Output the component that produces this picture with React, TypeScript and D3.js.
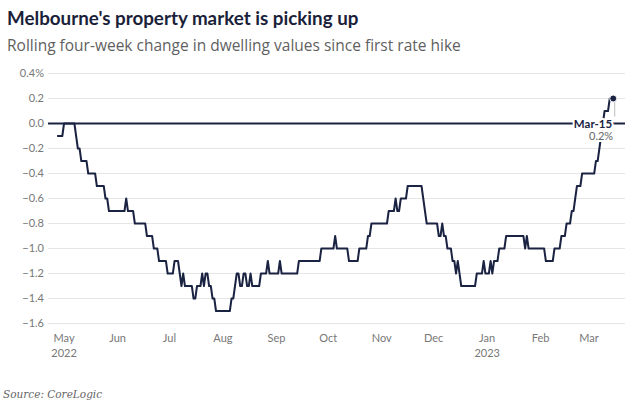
import React from "react";
import * as d3 from "d3";

// ---- data (change points of the rolling four-week change, %) ----
const stepStarts = [
  "2022-04-27", "2022-05-01", "2022-05-08", "2022-05-09", "2022-05-11", "2022-05-15", "2022-05-20",
  "2022-05-25", "2022-05-27", "2022-06-06", "2022-06-07", "2022-06-11", "2022-06-18", "2022-06-22",
  "2022-06-25", "2022-06-30", "2022-07-04", "2022-07-07", "2022-07-08", "2022-07-09", "2022-07-10",
  "2022-07-15", "2022-07-17", "2022-07-20", "2022-07-21", "2022-07-22", "2022-07-24", "2022-07-26",
  "2022-07-28", "2022-08-06", "2022-08-08", "2022-08-09", "2022-08-11", "2022-08-13", "2022-08-15",
  "2022-08-17", "2022-08-18", "2022-08-23", "2022-08-27", "2022-08-28", "2022-09-03", "2022-09-04",
  "2022-09-14", "2022-09-27", "2022-10-05", "2022-10-06", "2022-10-13", "2022-10-19", "2022-10-24",
  "2022-10-26", "2022-11-05", "2022-11-09", "2022-11-10", "2022-11-12", "2022-11-16", "2022-11-25",
  "2022-11-26", "2022-11-27", "2022-12-04", "2022-12-06", "2022-12-07", "2022-12-09", "2022-12-12",
  "2022-12-14", "2022-12-15", "2022-12-16", "2022-12-17", "2022-12-26", "2022-12-30", "2022-12-31",
  "2023-01-03", "2023-01-04", "2023-01-05", "2023-01-08", "2023-01-12", "2023-01-23", "2023-01-24",
  "2023-01-25", "2023-02-04", "2023-02-09", "2023-02-13", "2023-02-16", "2023-02-19", "2023-02-21",
  "2023-02-22", "2023-02-25", "2023-03-05", "2023-03-07", "2023-03-08", "2023-03-09", "2023-03-10",
  "2023-03-13",
];
const stepValues = [
  -0.1, 0.0, -0.1, -0.2, -0.3, -0.4, -0.5,
  -0.6, -0.7, -0.6, -0.7, -0.8, -0.9, -1.0,
  -1.1, -1.2, -1.1, -1.2, -1.3, -1.2, -1.3,
  -1.4, -1.3, -1.2, -1.3, -1.2, -1.3, -1.4,
  -1.5, -1.4, -1.3, -1.2, -1.3, -1.2, -1.3,
  -1.2, -1.3, -1.2, -1.1, -1.2, -1.1, -1.2,
  -1.1, -1.0, -0.9, -1.0, -1.1, -1.0, -0.9,
  -0.8, -0.7, -0.6, -0.7, -0.6, -0.5, -0.6,
  -0.7, -0.8, -0.9, -0.8, -0.9, -1.0, -1.1,
  -1.2, -1.1, -1.2, -1.3, -1.2, -1.1, -1.2,
  -1.1, -1.2, -1.1, -1.0, -0.9, -1.0, -0.9,
  -1.0, -1.1, -1.0, -0.9, -0.8, -0.7, -0.6,
  -0.5, -0.4, -0.3, -0.2, -0.1, 0.0, 0.1,
  0.2,
];
const seriesEnd = "2023-03-15";
const endLabel = "Mar-15";
const endValueLabel = "0.2%";

const yTicks = [0.4, 0.2, 0.0, -0.2, -0.4, -0.6, -0.8, -1.0, -1.2, -1.4, -1.6];
const monthTicks = [
  "2022-05-01", "2022-06-01", "2022-07-01", "2022-08-01", "2022-09-01", "2022-10-01",
  "2022-11-01", "2022-12-01", "2023-01-01", "2023-02-01", "2023-03-01",
];
const monthLabels = ["May", "Jun", "Jul", "Aug", "Sep", "Oct", "Nov", "Dec", "Jan", "Feb", "Mar"];
const yearLabels = ["2022", "", "", "", "", "", "", "", "2023", "", ""];

const title = "Melbourne's property market is picking up";
const subtitle = "Rolling four-week change in dwelling values since first rate hike";
const source = "Source: CoreLogic";

const W = 632;
const H = 418;
const NAVY = "#1b2342";
const FONT = "Lato, 'Noto Sans', sans-serif";

export default function App() {
  const parse = d3.utcParse("%Y-%m-%d");
  const starts = stepStarts.map((s) => parse(s) as Date);
  const end = parse(seriesEnd) as Date;
  const days = d3.utcDay.range(starts[0], d3.utcDay.offset(end, 1));
  const data = days.map((d) => {
    const i = d3.bisectRight(starts, d) - 1;
    return { date: d, value: stepValues[i] };
  });

  const x = d3
    .scaleUtc()
    .domain([parse("2022-04-22") as Date, parse("2023-03-22") as Date])
    .range([48.5, 625.3]);
  const y = d3.scaleLinear().domain([-1.6, 0.4]).range([323.5, 73.5]);

  const line = d3
    .line<{ date: Date; value: number }>()
    .x((d) => x(d.date))
    .y((d) => y(d.value));

  const last = data[data.length - 1];
  const lx = x(last.date);
  const ly = y(last.value);

  const fmtY = (v: number, i: number) => {
    const s = Math.abs(v).toFixed(1);
    const sign = v < -1e-9 ? "\u2212" : "";
    return sign + s + (i === 0 ? "%" : "");
  };

  return (
    <svg
      width={W}
      height={H}
      style={{ position: "absolute", left: 0, top: 0, background: "#fff" }}
      fontFamily={FONT}
    >
      <rect width={W} height={H} fill="#fff" />
      <text x={7} y={25} fontSize={18.8} fontWeight={700} fill="#1c1f3a">
        {title}
      </text>
      <text x={7} y={51} fontSize={15.5} fill="#5f5f5f" fontFamily="'Open Sans', sans-serif">
        {subtitle}
      </text>

      {yTicks.map((t, i) => (
        <g key={t}>
          {t !== 0 && (
            <line x1={48} x2={625} y1={y(t)} y2={y(t)} stroke="#e6e6e6" strokeWidth={1} />
          )}
          <text
            x={44}
            y={y(t)}
            dy="0.35em"
            textAnchor="end"
            fontSize={11}
            fill="#777"
          >
            {fmtY(t, i)}
          </text>
        </g>
      ))}

      {monthTicks.map((m, i) => {
        const xm = x(parse(m) as Date);
        return (
          <g key={m}>
            <text x={xm} y={342} textAnchor="middle" fontSize={11} fill="#777">
              {monthLabels[i]}
            </text>
            {yearLabels[i] && (
              <text x={xm} y={356.5} textAnchor="middle" fontSize={11} fill="#777">
                {yearLabels[i]}
              </text>
            )}
          </g>
        );
      })}

      <path d={line(data) ?? ""} fill="none" stroke={NAVY} strokeWidth={2} strokeLinejoin="round" />
      <line x1={48} x2={625} y1={y(0)} y2={y(0)} stroke={NAVY} strokeWidth={2} />

      <line x1={lx + 1.5} x2={lx + 1.5} y1={ly + 3} y2={y(0) - 7} stroke="#bbb" strokeWidth={1} />
      <circle cx={lx} cy={ly} r={3.5} fill={NAVY} stroke="#fff" strokeWidth={1} />

      <g
        style={{ paintOrder: "stroke" }}
        stroke="#fff"
        strokeWidth={4}
        strokeLinejoin="round"
      >
        <text x={lx - 1} y={y(0) + 4.5} textAnchor="end" fontSize={11.5} fontWeight={700} fill={NAVY}>
          {endLabel}
        </text>
        <text x={lx} y={y(0) + 16} textAnchor="end" fontSize={11} fill="#666">
          {endValueLabel}
        </text>
      </g>

      <text x={3} y={398} fontSize={10.5} fontStyle="italic" fontFamily="'DejaVu Serif', serif" fill="#666">
        {source}
      </text>
    </svg>
  );
}
